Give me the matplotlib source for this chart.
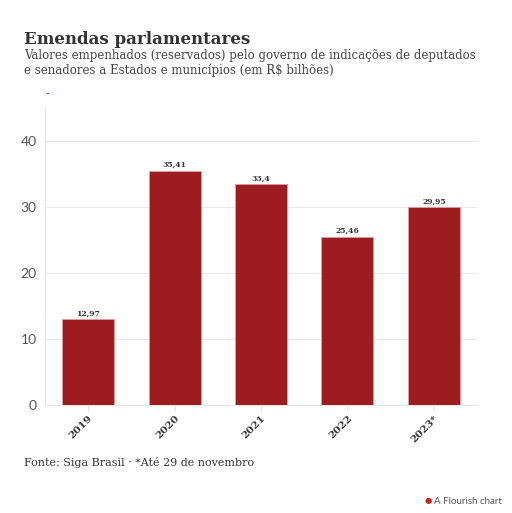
import matplotlib.pyplot as plt

# Data
anos = ['2019', '2020', '2021', '2022', '2023*']
valores = [12.97, 35.41, 33.4, 25.46, 29.95]
rotulos = ['12,97', '35,41', '33,4', '25,46', '29,95']
yticks = [0, 10, 20, 30, 40]

vermelho = '#9c1c1f'
serif = ['DejaVu Serif']
sans = ['Lato', 'DejaVu Sans']

fig = plt.figure(figsize=(5.12, 5.13), dpi=100)
ax = fig.add_axes([0.0879, 0.2105, 0.8437, 0.5809])

x = range(len(anos))
ax.bar(x, valores, width=0.6, color=vermelho, edgecolor='#e0a0a0', linewidth=0.6, zorder=3)
for xi, v, r in zip(x, valores, rotulos):
    ax.text(xi, v + 0.3, r, ha='center', va='bottom', fontsize=5.5,
            fontweight='bold', family=serif, color='#333333')

ax.set_xlim(-0.5, 4.5)
ax.set_ylim(0, 45.1)
ax.set_yticks(yticks)
ax.set_yticklabels([str(t) for t in yticks], family=sans, fontsize=10, color='#555555')
ax.set_xticks(list(x))
ax.set_xticklabels(anos, rotation=45, ha='right', rotation_mode='anchor',
                   family=serif, fontsize=7.5, fontweight='bold', color='#333333')
ax.tick_params(axis='y', length=0, pad=6)
ax.tick_params(axis='x', length=4, color='#e6e6e6', pad=2)
ax.grid(axis='y', color='#e8e8e8', linewidth=0.8, zorder=0)
for s in ['top', 'right']:
    ax.spines[s].set_visible(False)
ax.spines['left'].set_color('#e6e6e6')
ax.spines['bottom'].set_color('#e6e6e6')

# Title and texts
fig.text(24/512, 1 - 40/513, 'Emendas parlamentares', fontsize=12, fontweight='bold',
         family=serif, color='#333333', va='center')
fig.text(24/512, 1 - 63/513,
         'Valores empenhados (reservados) pelo governo de indicações de deputados\n'
         'e senadores a Estados e municípios (em R$ bilhões)',
         fontsize=8.5, family=serif, color='#444444', va='center', linespacing=1.2)
fig.text(24/512, 1 - 463/513, 'Fonte: Siga Brasil · *Até 29 de novembro', fontsize=8,
         family=serif, color='#333333', va='center')
fig.text(502/512, 1 - 501/513, 'A Flourish chart', fontsize=7, family=sans,
         color='#555555', va='center', ha='right')
fig.text(428/512, 1 - 501/513, '●', fontsize=6, color='#cc2222', va='center', ha='center')
fig.text(47/512, 1 - 93/513, '-', fontsize=7, color=vermelho, va='center', ha='center')

fig.savefig('out.png', dpi=100)
